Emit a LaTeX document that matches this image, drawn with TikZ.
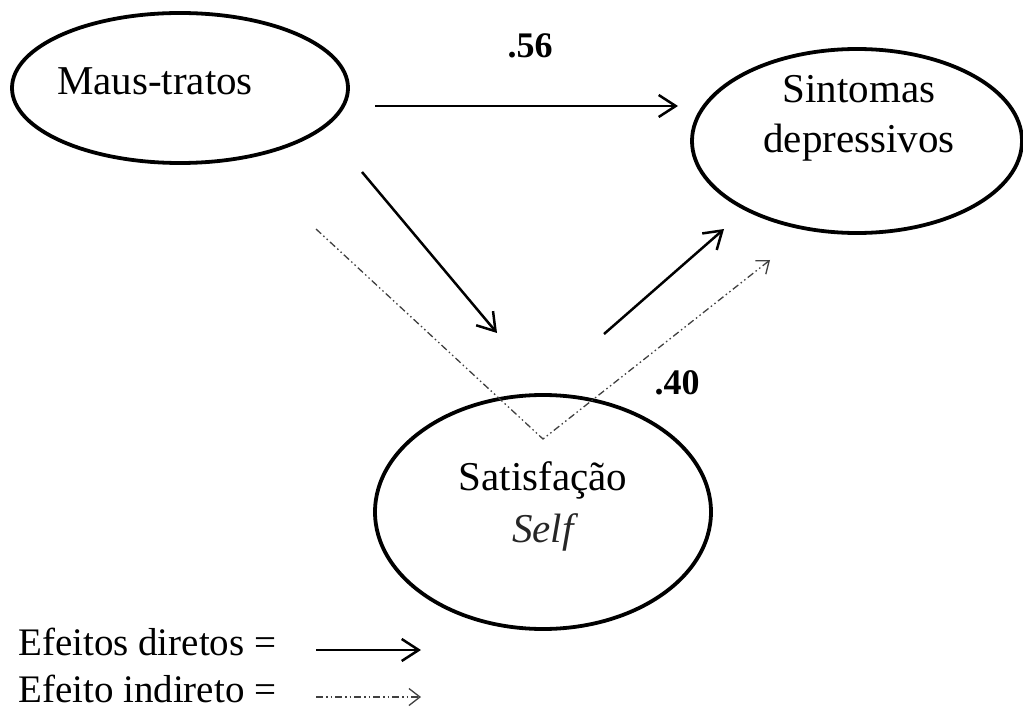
\documentclass[tikz,border=0pt]{standalone}
\usepackage{fontspec}
\setmainfont{Liberation Serif}
\usetikzlibrary{shapes.geometric,arrows.meta}
\begin{document}
\begin{tikzpicture}[x=1pt,y=-1pt,
  construct/.style={draw,ellipse,line width=3.8pt,inner sep=0pt},
  lbl/.style={inner sep=0pt,anchor=base,font=\fontsize{41}{49}\selectfont},
  coef/.style={inner sep=0pt,anchor=base,font=\fontsize{36}{40}\selectfont\bfseries},
  legtxt/.style={inner sep=0pt,anchor=base west,font=\fontsize{39}{46}\selectfont},
  direct/.style={line width=2.5pt,-{Straight Barb[length=17pt,width=22pt,line width=2.5pt]}},
  indirect/.style={line width=1.3pt,draw=black!75,
    dash pattern=on 7pt off 3pt on 1.5pt off 3pt on 1.5pt off 3pt,
    -{Straight Barb[length=11pt,width=17pt,line width=1.3pt]}}]
\useasboundingbox (0,0) rectangle (1023,714);

% latent constructs
\node[construct,minimum width=336pt,minimum height=150pt] (maus) at (180,88) {};
\node[construct,minimum width=330pt,minimum height=184pt] (sint) at (857,141) {};
\node[construct,minimum width=336pt,minimum height=234pt] (sat) at (543,512) {};

\node[lbl] (tmaus) at (155,95) {Maus-tratos};
\node[lbl] (tsint1) at (859,103) {Sintomas};
\node[lbl] (tsint2) at (859,153) {depressivos};
\node[lbl] (tsat1) at (543,490) {Satisfação};
\node[lbl,text=black!85] (tsat2) at (543,542) {\itshape Self};

% path coefficients
\node[coef] (c56) at (530,58) {.56};
\node[coef] (c40) at (677,394) {.40};

% direct effects
\coordinate (a1) at (375,106);
\coordinate (a2) at (678,106);
\coordinate (b1) at (362,172);
\coordinate (b2) at (497,333);
\coordinate (d1) at (604,334);
\coordinate (d2) at (724,229);
\draw[direct] (a1) -- (a2);
\draw[direct] (b1) -- (b2);
\draw[direct] (d1) -- (d2);

% indirect effect through the mediator
\coordinate (i1) at (316,229);
\coordinate (i2) at (543,439);
\coordinate (i3) at (770,260);
\draw[indirect] (i1) -- (i2) -- (i3);

% legend
\node[legtxt] (l1) at (18,655) {Efeitos diretos =};
\node[legtxt] (l2) at (18,702) {Efeito indireto =};
\coordinate (la1) at (316,650);
\coordinate (la2) at (421,650);
\coordinate (lb1) at (316,697);
\coordinate (lb2) at (421,697);
\draw[direct] (la1) -- (la2);
\draw[indirect] (lb1) -- (lb2);
\end{tikzpicture}
\end{document}
